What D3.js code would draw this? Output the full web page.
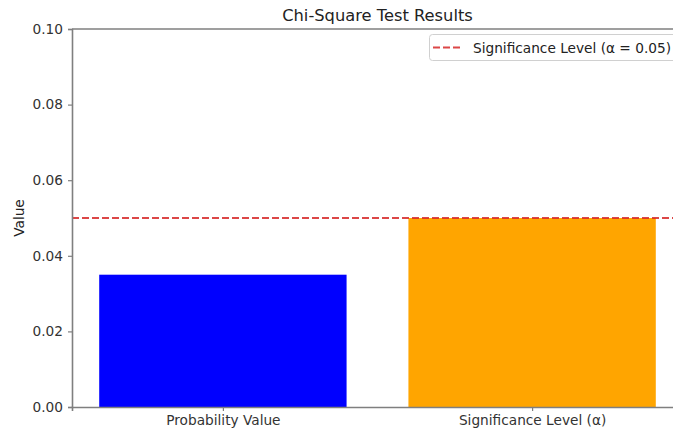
<!DOCTYPE html>
<html><head><meta charset="utf-8">
<script src="https://cdn.jsdelivr.net/npm/d3@7"></script>
<style>body{margin:0;background:#fff;}svg{display:block;font-family:"DejaVu Sans",sans-serif;}</style>
</head><body>
<svg id="c" width="673" height="431"></svg>
<script>
const categories = ["Probability Value", "Significance Level (α)"];
const values = [0.035, 0.05];
const colors = ["#0000ff", "#ffa500"];
const yTicks = [0.00, 0.02, 0.04, 0.06, 0.08, 0.10];
const alpha = 0.05;
const title = "Chi-Square Test Results";
const yLabel = "Value";
const legendLabel = "Significance Level (α = 0.05)";

const svg = d3.select("#c");
const m = {l: 72, t: 29, r: 683, b: 407};
const x = d3.scaleLinear().domain([-0.488, 1.488]).range([m.l, m.r]);
const y = d3.scaleLinear().domain([0, 0.1]).range([m.b, m.t]);
const bw = 0.8;

svg.selectAll("rect.bar").data(values).join("rect").attr("class","bar")
  .attr("x", (d,i)=>x(i-bw/2)).attr("width", (d,i)=>x(i+bw/2)-x(i-bw/2))
  .attr("y", d=>y(d)).attr("height", d=>y(0)-y(d))
  .attr("fill", (d,i)=>colors[i]);

// significance line
svg.append("line").attr("x1", m.l).attr("x2", m.r).attr("y1", y(alpha)).attr("y2", y(alpha))
  .attr("stroke", "#d62728").attr("stroke-width", 2).attr("stroke-dasharray", "7,3").attr("opacity",0.85);

// axes
const axisColor = "#7f7f7f";
const fs = "13.7px";
const yAxis = svg.append("g").attr("transform", `translate(${m.l},0)`)
  .call(d3.axisLeft(y).tickValues(yTicks).tickFormat(d3.format(".2f")).tickSize(4).tickPadding(5));
const xAxis = svg.append("g").attr("transform", `translate(0,${m.b})`)
  .call(d3.axisBottom(x).tickValues([0,1]).tickFormat(i=>categories[i]).tickSize(4).tickPadding(4));
[yAxis, xAxis].forEach(g=>{
  g.select(".domain").attr("stroke", axisColor).attr("stroke-width", 1.6);
  g.selectAll(".tick line").attr("stroke", axisColor).attr("stroke-width", 1.2);
  g.selectAll(".tick text").attr("fill", "#333").style("font-size",fs).style("font-family","DejaVu Sans, sans-serif");
});
// top spine and right spine
svg.append("line").attr("x1", m.l).attr("x2", m.r).attr("y1", m.t).attr("y2", m.t)
  .attr("stroke", axisColor).attr("stroke-width", 1.6);
svg.append("line").attr("x1", m.r).attr("x2", m.r).attr("y1", m.t).attr("y2", m.b)
  .attr("stroke", axisColor).attr("stroke-width", 1.6);

// title
svg.append("text").attr("x", (m.l+m.r)/2).attr("y", 21).attr("text-anchor","middle")
  .style("font-size","16.3px").attr("fill","#222").text(title);
// ylabel
svg.append("text").attr("transform", `translate(24,${(m.t+m.b)/2}) rotate(-90)`).attr("text-anchor","middle")
  .style("font-size",fs).attr("fill","#222").text(yLabel);

// legend
const lg = svg.append("g");
lg.append("rect").attr("x", 429.5).attr("y", 34.5).attr("width", 254).attr("height", 26).attr("rx", 3)
  .attr("fill", "#fff").attr("fill-opacity", 0.8).attr("stroke", "#d0d0d0");
lg.append("line").attr("x1", 433).attr("x2", 461).attr("y1", 47.5).attr("y2", 47.5)
  .attr("stroke", "#d62728").attr("stroke-width", 2).attr("stroke-dasharray", "7,3").attr("opacity",0.85);
lg.append("text").attr("x", 473).attr("y", 52.5).style("font-size",fs).attr("fill","#222").text(legendLabel);
</script>
</body></html>
